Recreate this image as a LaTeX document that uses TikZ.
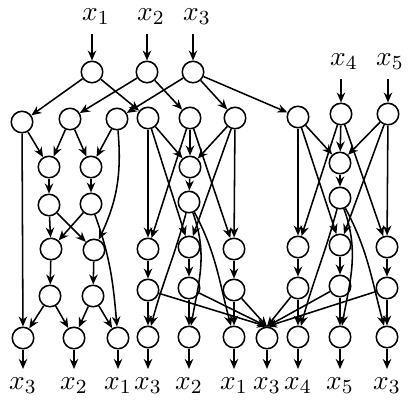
\documentclass[tikz,border=0pt]{standalone}
\usepackage{amsmath}
\usetikzlibrary{arrows.meta}

\tikzset{
  gate/.style={circle,draw,minimum size=8.6pt,inner sep=0pt},
}

\begin{document}
\begin{tikzpicture}[x=0.4pt,y=-0.4pt,>={Stealth[length=4pt,width=3.4pt]},line width=0.62pt,
  every node/.append style={font=\fontsize{10.8}{13}\selectfont}]
  \useasboundingbox (0,0) rectangle (415,409);
  % Input labels
  \node (in1) at (96,17) {$x_1$};
  \node (in2) at (151,17) {$x_2$};
  \node (in3) at (197,17) {$x_3$};
  \node (in4) at (344,62) {$x_4$};
  \node (in5) at (390,62) {$x_5$};
  % Fan-out gates
  \node[gate] (g1) at (92,72) {};
  \node[gate] (g2) at (147,72) {};
  \node[gate] (g3) at (193,72) {};
  \node[gate] (g4) at (341,114) {};
  \node[gate] (g5) at (388,114) {};
  % Left block
  \node[gate] (a1) at (22,122) {};
  \node[gate] (a2) at (70,119) {};
  \node[gate] (a3) at (117,119) {};
  \node[gate] (b1) at (49,167) {};
  \node[gate] (b2) at (91,167) {};
  \node[gate] (c1) at (49,205) {};
  \node[gate] (c2) at (91,204) {};
  \node[gate] (d1) at (51,249) {};
  \node[gate] (d2) at (94,250) {};
  \node[gate] (e1) at (50,296) {};
  \node[gate] (e2) at (93,296) {};
  \node[gate] (f1) at (23,338) {};
  \node[gate] (f2) at (74,338) {};
  \node[gate] (f3) at (118,338) {};
  % Middle block
  \node[gate] (mp) at (148,118) {};
  \node[gate] (mq) at (190,118) {};
  \node[gate] (mr) at (235,118) {};
  \node[gate] (mt) at (190,167) {};
  \node[gate] (mu) at (189,202) {};
  \node[gate] (ma) at (148,249) {};
  \node[gate] (mb) at (189,247) {};
  \node[gate] (mc) at (234,249) {};
  \node[gate] (ma2) at (148,290) {};
  \node[gate] (mb2) at (189,288) {};
  \node[gate] (mc2) at (234,290) {};
  \node[gate] (ma3) at (148,337) {};
  \node[gate] (mb3) at (189,337) {};
  \node[gate] (mc3) at (234,337) {};
  % Right block
  \node[gate] (rp) at (298,117) {};
  \node[gate] (rt) at (340,163) {};
  \node[gate] (ru) at (340,198) {};
  \node[gate] (ra) at (298,247) {};
  \node[gate] (rb) at (340,245) {};
  \node[gate] (rc) at (387,247) {};
  \node[gate] (ra2) at (298,288) {};
  \node[gate] (rb2) at (340,286) {};
  \node[gate] (rc2) at (387,288) {};
  \node[gate] (ra3) at (298,337) {};
  \node[gate] (rb3) at (340,337) {};
  \node[gate] (rc3) at (387,337) {};
  % Collector
  \node[gate] (k) at (267,338) {};
  % Output labels
  \node (out1) at (23,386) {$x_3$};
  \node (out2) at (74,386) {$x_2$};
  \node (out3) at (118,386) {$x_1$};
  \node (out4) at (148,386) {$x_3$};
  \node (out5) at (189,386) {$x_2$};
  \node (out6) at (234,386) {$x_1$};
  \node (out7) at (267,386) {$x_3$};
  \node (out8) at (298,386) {$x_4$};
  \node (out9) at (340,386) {$x_5$};
  \node (out10) at (387,386) {$x_3$};
  % Inputs into gates
  \draw[->] (g1 |- in1.south) -- (g1);
  \draw[->] (g2 |- in2.south) -- (g2);
  \draw[->] (g3 |- in3.south) -- (g3);
  \draw[->] (g4 |- in4.south) -- (g4);
  \draw[->] (g5 |- in5.south) -- (g5);
  % Fan-out
  \draw[->] (g1) -- (a1);
  \draw[->] (g1) -- (mp);
  \draw[->] (g2) -- (a2);
  \draw[->] (g2) -- (mq);
  \draw[->] (g3) -- (a3);
  \draw[->] (g3) -- (mr);
  \draw[->] (g3) -- (rp);
  % Left block wiring
  \draw[->] (a1) -- (b1);
  \draw[->] (a2) -- (b1);
  \draw[->] (a2) -- (b2);
  \draw[->] (a3) -- (b2);
  \draw[->] (b1) -- (c1);
  \draw[->] (b2) -- (c2);
  \draw[->] (c1) -- (d1);
  \draw[->] (c2) -- (d1);
  \draw[->] (c1) -- (d2);
  \draw[->] (a3) to[out=-85,in=65] (d2);
  \draw[->] (d1) -- (e1);
  \draw[->] (d2) -- (e2);
  \draw[->] (a1) -- (f1);
  \draw[->] (e1) -- (f1);
  \draw[->] (e1) -- (f2);
  \draw[->] (e2) -- (f2);
  \draw[->] (e2) -- (f3);
  \draw[->] (c2) to[out=-70,in=95] (f3);
  % Middle block wiring
  \draw[->] (mp) -- (mt);
  \draw[->] (mq) -- (mt);
  \draw[->] (mr) -- (mt);
  \draw[->] (mt) -- (mu);
  \draw[->] (mp) -- (ma);
  \draw[->] (mq) -- (ma);
  \draw[->] (mp) -- (mb);
  \draw[->] (mr) -- (mb);
  \draw[->] (mq) -- (mc);
  \draw[->] (mr) -- (mc);
  \draw[->] (ma) -- (ma2);
  \draw[->] (mb) -- (mb2);
  \draw[->] (mc) -- (mc2);
  \draw[->] (ma2) -- (ma3);
  \draw[->] (mb2) -- (mb3);
  \draw[->] (mc2) -- (mc3);
  \draw[->] (mu) to[out=-105,in=75] (ma3);
  \draw[->] (mu) to[out=-70,in=80] (mb3);
  \draw[->] (mu) to[out=-62,in=105] (mc3);
  % Right block wiring
  \draw[->] (rp) -- (rt);
  \draw[->] (g4) -- (rt);
  \draw[->] (g5) -- (rt);
  \draw[->] (rt) -- (ru);
  \draw[->] (rp) -- (ra);
  \draw[->] (g4) -- (ra);
  \draw[->] (rp) -- (rb);
  \draw[->] (g5) -- (rb);
  \draw[->] (g4) -- (rc);
  \draw[->] (g5) -- (rc);
  \draw[->] (ra) -- (ra2);
  \draw[->] (rb) -- (rb2);
  \draw[->] (rc) -- (rc2);
  \draw[->] (ra2) -- (ra3);
  \draw[->] (rb2) -- (rb3);
  \draw[->] (rc2) -- (rc3);
  \draw[->] (ru) to[out=-105,in=75] (ra3);
  \draw[->] (ru) to[out=-70,in=80] (rb3);
  \draw[->] (ru) to[out=-62,in=105] (rc3);
  % Into the collector
  \draw[->] (ma2) -- (k.north);
  \draw[->] (mb2) -- (k.north);
  \draw[->] (mc2) -- (k.north);
  \draw[->] (ra2) -- (k.north);
  \draw[->] (rb2) -- (k.north);
  \draw[->] (rc2) -- (k.north);
  % Outputs
  \draw[->] (f1) -- (f1 |- out1.north);
  \draw[->] (f2) -- (f2 |- out2.north);
  \draw[->] (f3) -- (f3 |- out3.north);
  \draw[->] (ma3) -- (ma3 |- out4.north);
  \draw[->] (mb3) -- (mb3 |- out5.north);
  \draw[->] (mc3) -- (mc3 |- out6.north);
  \draw[->] (k) -- (k |- out7.north);
  \draw[->] (ra3) -- (ra3 |- out8.north);
  \draw[->] (rb3) -- (rb3 |- out9.north);
  \draw[->] (rc3) -- (rc3 |- out10.north);
\end{tikzpicture}
\end{document}
